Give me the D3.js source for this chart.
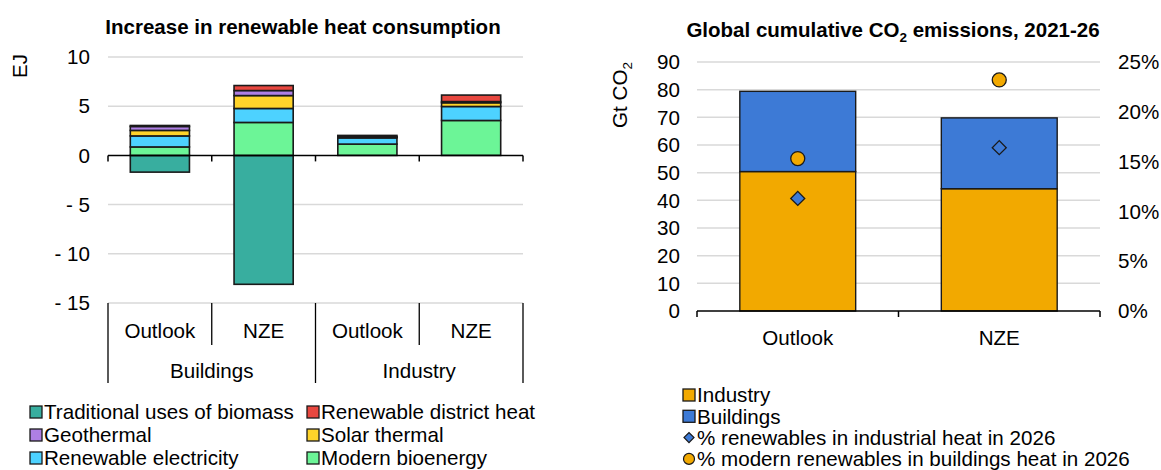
<!DOCTYPE html>
<html><head><meta charset="utf-8">
<script src="https://cdn.jsdelivr.net/npm/d3@7"></script>
<style>
body{margin:0;background:#fff;}
text{font-family:"Liberation Sans",Arial,sans-serif;fill:#000;}
</style></head>
<body><svg id="c" width="1161" height="470"></svg>
<script>
// ---------- Left chart data ----------
const sectors = ["Buildings", "Industry"];
const scenarios = ["Outlook", "NZE"];
const heatSeries = ["Traditional uses of biomass","Modern bioenergy","Renewable electricity","Solar thermal","Geothermal","Renewable district heat"];
const traditional = [-1.7, -13.1, 0, 0];
const modernBio   = [0.86, 3.35, 1.15, 3.55];
const renewElec   = [1.12, 1.42, 0.63, 1.42];
const solarTherm  = [0.56, 1.31, 0.08, 0.38];
const geothermal  = [0.40, 0.51, 0.05, 0.12];
const districtHeat= [0.10, 0.51, 0.12, 0.66];
const heatColors = ["#38ae9f","#6cf597","#4dd2ff","#ffd42a","#ae7fe4","#e8473f"];
const leftTicks = [10,5,0,-5,-10,-15];
const leftTickLabels = ["10","5","0","- 5","- 10","- 15"];

// ---------- Right chart data ----------
const co2Cats = ["Outlook","NZE"];
const industryCO2 = [50.4, 44.2];
const buildingsCO2 = [29.0, 25.6];
const pctIndustrial = [0.113, 0.164];
const pctBuildings = [0.153, 0.232];
const rightTicks = [0,10,20,30,40,50,60,70,80,90];
const pctTicks = [0,0.05,0.10,0.15,0.20,0.25];
const co2Colors = {industry:"#f2a900", buildings:"#3d7ad6"};

const svg = d3.select("#c");
const FS = 20.6;
const TFS = 20.5;

// ================= LEFT CHART =================
const cats = [];
sectors.forEach(s => scenarios.forEach(sc => cats.push(s + "|" + sc)));
const rows = cats.map((c,i) => ({cat:c,
  "Traditional uses of biomass":traditional[i], "Modern bioenergy":modernBio[i],
  "Renewable electricity":renewElec[i], "Solar thermal":solarTherm[i],
  "Geothermal":geothermal[i], "Renewable district heat":districtHeat[i]}));
const x1 = d3.scaleBand().domain(cats).range([108,523]).padding(0);
const y1 = d3.scaleLinear().domain([-15,10]).range([303,57]);
const bw1 = x1.bandwidth()*0.57;
const gL = svg.append("g");

// gridlines
gL.append("g").selectAll("line").data(leftTicks.filter(d=>d!==0)).join("line")
  .attr("x1",108).attr("x2",523).attr("y1",d=>y1(d)).attr("y2",d=>y1(d))
  .attr("stroke","#d9d9d9").attr("stroke-width",1.5);
// y tick labels
gL.append("g").selectAll("text").data(leftTicks).join("text")
  .attr("x",90).attr("y",d=>y1(d)).attr("dy","0.35em").attr("text-anchor","end")
  .attr("font-size",FS).text((d,i)=>leftTickLabels[i]);

const stack = d3.stack().keys(heatSeries).offset(d3.stackOffsetDiverging);
const stacked = stack(rows);
gL.append("g").selectAll("g").data(stacked).join("g")
  .attr("fill",(d,i)=>heatColors[i])
  .selectAll("rect").data(d=>d.filter(v=>v[1]!==v[0])).join("rect")
  .attr("x",d=>x1(d.data.cat)+(x1.bandwidth()-bw1)/2).attr("width",bw1)
  .attr("y",d=>y1(Math.max(d[0],d[1]))).attr("height",d=>Math.abs(y1(d[0])-y1(d[1])))
  .attr("stroke","#1a1a1a").attr("stroke-width",1.6);

// zero axis
gL.append("line").attr("x1",108).attr("x2",523).attr("y1",y1(0)).attr("y2",y1(0))
  .attr("stroke","#000").attr("stroke-width",1.5);
const bounds = cats.map(c=>x1(c)).concat([523]);
gL.append("g").selectAll("line").data(bounds).join("line")
  .attr("x1",d=>d).attr("x2",d=>d).attr("y1",y1(0)).attr("y2",y1(0)+6)
  .attr("stroke","#000").attr("stroke-width",1.5);
// multi-level category axis
gL.append("g").selectAll("line").data(bounds).join("line")
  .attr("x1",d=>d).attr("x2",d=>d).attr("y1",303)
  .attr("y2",(d,i)=> (i%2===0)?383:345)
  .attr("stroke","#000").attr("stroke-width",1.3);
gL.append("g").selectAll("text").data(cats).join("text")
  .attr("x",d=>x1(d)+x1.bandwidth()/2).attr("y",331).attr("dy","0.35em")
  .attr("text-anchor","middle").attr("font-size",FS).text(d=>d.split("|")[1]);
gL.append("g").selectAll("text").data(sectors).join("text")
  .attr("x",(d,i)=>x1(cats[i*2])+x1.bandwidth()).attr("y",371).attr("dy","0.35em")
  .attr("text-anchor","middle").attr("font-size",FS).text(d=>d);

// title and axis label
gL.append("text").attr("x",303).attr("y",27).attr("dy","0.35em").attr("text-anchor","middle")
  .attr("font-size",TFS).attr("font-weight","bold").text("Increase in renewable heat consumption");
gL.append("text").attr("transform","translate(20,66) rotate(-90)").attr("dy","0.35em")
  .attr("text-anchor","middle").attr("font-size",FS).text("EJ");

// left legend
const legOrder = ["Traditional uses of biomass","Renewable district heat","Geothermal","Solar thermal","Renewable electricity","Modern bioenergy"];
const lg = gL.append("g").selectAll("g").data(legOrder).join("g")
  .attr("transform",(d,i)=>`translate(${i%2===0?30:307},${412+Math.floor(i/2)*23})`);
lg.append("rect").attr("x",0).attr("y",-6).attr("width",12).attr("height",12)
  .attr("fill",d=>heatColors[heatSeries.indexOf(d)]).attr("stroke","#1a1a1a").attr("stroke-width",1.3);
lg.append("text").attr("x",14).attr("dy","0.35em").attr("font-size",FS).text(d=>d);

// ================= RIGHT CHART =================
const x2 = d3.scaleBand().domain(co2Cats).range([697,1100]).padding(0);
const y2 = d3.scaleLinear().domain([0,90]).range([311,62]);
const y2r = d3.scaleLinear().domain([0,0.25]).range([311,62]);
const bw2 = x2.bandwidth()*0.575;
const gR = svg.append("g");
gR.append("g").selectAll("line").data(rightTicks.filter(d=>d>0)).join("line")
  .attr("x1",697).attr("x2",1100).attr("y1",d=>y2(d)).attr("y2",d=>y2(d))
  .attr("stroke","#d9d9d9").attr("stroke-width",1.5);
gR.append("g").selectAll("text").data(rightTicks).join("text")
  .attr("x",680).attr("y",d=>y2(d)).attr("dy","0.35em").attr("text-anchor","end")
  .attr("font-size",FS).text(d=>d);
gR.append("g").selectAll("text").data(pctTicks).join("text")
  .attr("x",1118).attr("y",d=>y2r(d)).attr("dy","0.35em").attr("text-anchor","start")
  .attr("font-size",FS).text(d=>d3.format(".0%")(d));

const rowsR = co2Cats.map((c,i)=>({cat:c, industry:industryCO2[i], buildings:buildingsCO2[i]}));
const stackR = d3.stack().keys(["industry","buildings"])(rowsR);
gR.append("g").selectAll("g").data(stackR).join("g").attr("fill",d=>co2Colors[d.key])
  .selectAll("rect").data(d=>d).join("rect")
  .attr("x",d=>x2(d.data.cat)+(x2.bandwidth()-bw2)/2).attr("width",bw2)
  .attr("y",d=>y2(d[1])).attr("height",d=>y2(d[0])-y2(d[1]))
  .attr("stroke","#1a1a1a").attr("stroke-width",1.4);

// axis
gR.append("line").attr("x1",697).attr("x2",1100).attr("y1",y2(0)).attr("y2",y2(0))
  .attr("stroke","#000").attr("stroke-width",1.5);
gR.append("g").selectAll("line").data([697, x2("NZE"), 1100]).join("line")
  .attr("x1",d=>d).attr("x2",d=>d).attr("y1",y2(0)).attr("y2",y2(0)+6)
  .attr("stroke","#000").attr("stroke-width",1.5);
gR.append("g").selectAll("text").data(co2Cats).join("text")
  .attr("x",d=>x2(d)+x2.bandwidth()/2).attr("y",338).attr("dy","0.35em")
  .attr("text-anchor","middle").attr("font-size",FS).text(d=>d);

// markers
const diamond = d3.symbol().type(d3.symbolSquare).size(98);
gR.append("g").selectAll("path").data(pctIndustrial).join("path")
  .attr("d",diamond())
  .attr("transform",(d,i)=>`translate(${x2(co2Cats[i])+x2.bandwidth()/2},${y2r(d)}) rotate(45)`)
  .attr("fill",co2Colors.buildings).attr("stroke","#1a1a1a").attr("stroke-width",1.3);
gR.append("g").selectAll("circle").data(pctBuildings).join("circle")
  .attr("cx",(d,i)=>x2(co2Cats[i])+x2.bandwidth()/2).attr("cy",d=>y2r(d)).attr("r",7)
  .attr("fill",co2Colors.industry).attr("stroke","#1a1a1a").attr("stroke-width",1.3);

// title
const t2 = gR.append("text").attr("x",893).attr("y",30).attr("dy","0.35em").attr("text-anchor","middle")
  .attr("font-size",TFS).attr("font-weight","bold");
t2.append("tspan").text("Global cumulative CO");
t2.append("tspan").attr("font-size",13.5).attr("dy","5").text("2");
t2.append("tspan").attr("dy","-5").text(" emissions, 2021-26");
// y label
const yl = gR.append("text").attr("transform","translate(620,95) rotate(-90)").attr("dy","0.35em")
  .attr("text-anchor","middle").attr("font-size",FS);
yl.append("tspan").text("Gt CO");
yl.append("tspan").attr("font-size",13.5).attr("dy","5").text("2");

// right legend
const rLeg = [
  {label:"Industry", type:"rect", color:co2Colors.industry},
  {label:"Buildings", type:"rect", color:co2Colors.buildings},
  {label:"% renewables in industrial heat in 2026", type:"diamond", color:co2Colors.buildings},
  {label:"% modern renewables in buildings heat in 2026", type:"circle", color:co2Colors.industry}
];
const rg = gR.append("g").selectAll("g").data(rLeg).join("g")
  .attr("transform",(d,i)=>`translate(683,${395+i*21.3})`);
rg.filter(d=>d.type==="rect").append("rect").attr("x",0).attr("y",-6).attr("width",12).attr("height",12)
  .attr("fill",d=>d.color).attr("stroke","#1a1a1a").attr("stroke-width",1.3);
rg.filter(d=>d.type==="diamond").append("path").attr("d",d3.symbol().type(d3.symbolSquare).size(50)())
  .attr("transform","translate(6,0) rotate(45)").attr("fill",d=>d.color).attr("stroke","#1a1a1a").attr("stroke-width",1.2);
rg.filter(d=>d.type==="circle").append("circle").attr("cx",6).attr("cy",0).attr("r",5.5)
  .attr("fill",d=>d.color).attr("stroke","#1a1a1a").attr("stroke-width",1.2);
rg.append("text").attr("x",14).attr("dy","0.35em").attr("font-size",FS).text(d=>d.label);
</script></body></html>
